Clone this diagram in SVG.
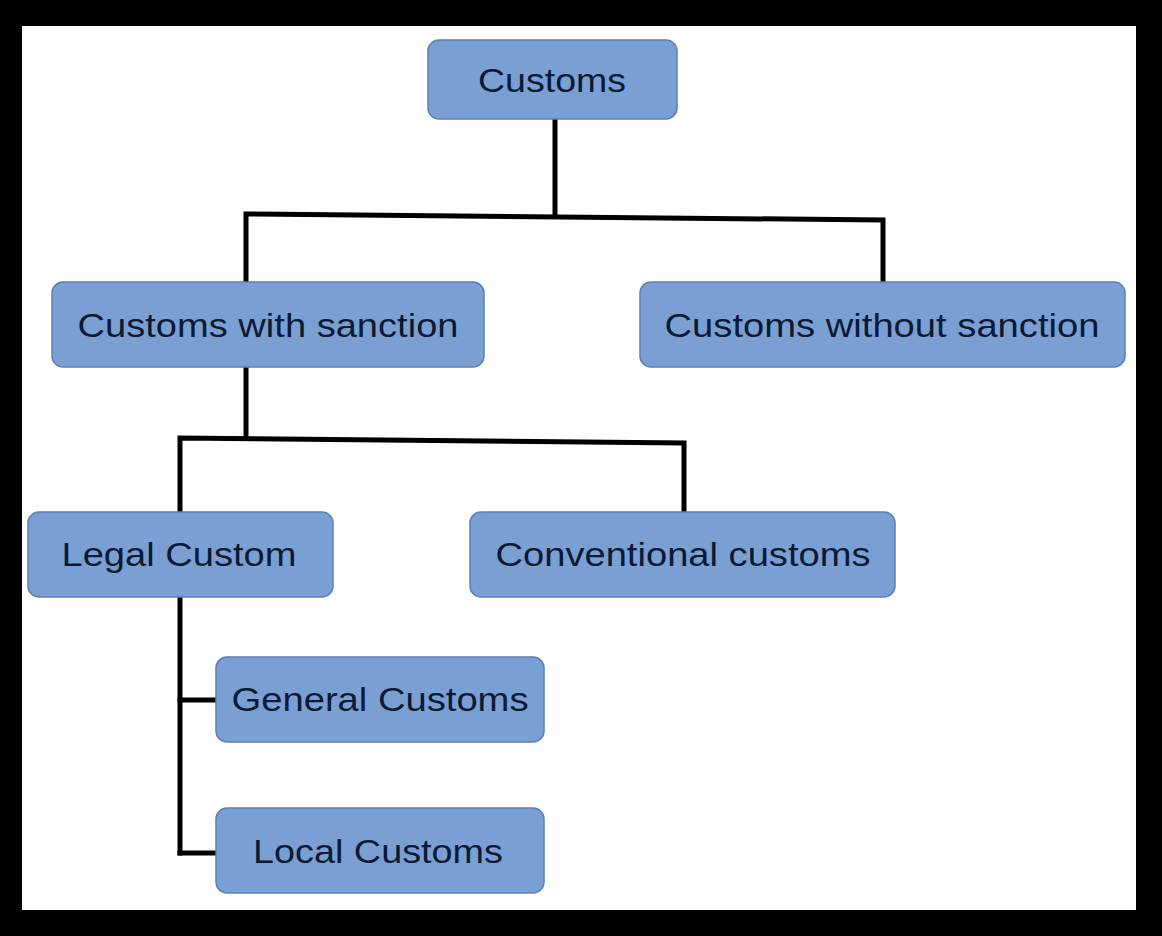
<svg xmlns="http://www.w3.org/2000/svg" width="1162" height="936" viewBox="0 0 1162 936">
<style>
.box{fill:#7a9fd3;stroke:#5b7fb6;stroke-width:1.5}
.lbl{font-family:"Liberation Sans",Arial,sans-serif;font-size:34px;fill:#0b1a33;text-anchor:middle}
.ln{fill:none;stroke:#000;stroke-width:5;stroke-linecap:square}
</style>
<rect x="0" y="0" width="1162" height="936" fill="#000"/>
<rect x="22" y="26" width="1114" height="884" fill="#fff"/>
<g id="connectors">
<path class="ln" d="M555 121 L555 216"/>
<path class="ln" d="M246 280 L246 214 L883 220 L883 280"/>
<path class="ln" d="M246 369 L246 437"/>
<path class="ln" d="M180 510 L180 438 L684 443 L684 510"/>
<path class="ln" d="M180 599 L180 853"/>
<path class="ln" d="M180 700 L214 700"/>
<path class="ln" d="M180 853 L214 853"/>
</g>
<g id="n-customs"><rect class="box" x="428" y="40" width="249" height="79" rx="11"/><text class="lbl" x="552" y="92" textLength="148" lengthAdjust="spacingAndGlyphs">Customs</text></g>
<g id="n-with"><rect class="box" x="52" y="282" width="432" height="85" rx="11"/><text class="lbl" x="268" y="337" textLength="381" lengthAdjust="spacingAndGlyphs">Customs with sanction</text></g>
<g id="n-without"><rect class="box" x="640" y="282" width="485" height="85" rx="11"/><text class="lbl" x="882" y="337" textLength="435" lengthAdjust="spacingAndGlyphs">Customs without sanction</text></g>
<g id="n-legal"><rect class="box" x="28" y="512" width="305" height="85" rx="11"/><text class="lbl" x="179" y="566" textLength="235" lengthAdjust="spacingAndGlyphs">Legal Custom</text></g>
<g id="n-conv"><rect class="box" x="470" y="512" width="425" height="85" rx="11"/><text class="lbl" x="683" y="566" textLength="375" lengthAdjust="spacingAndGlyphs">Conventional customs</text></g>
<g id="n-general"><rect class="box" x="216" y="657" width="328" height="85" rx="11"/><text class="lbl" x="380" y="711" textLength="297" lengthAdjust="spacingAndGlyphs">General Customs</text></g>
<g id="n-local"><rect class="box" x="216" y="808" width="328" height="85" rx="11"/><text class="lbl" x="378" y="863" textLength="250" lengthAdjust="spacingAndGlyphs">Local Customs</text></g>
</svg>
